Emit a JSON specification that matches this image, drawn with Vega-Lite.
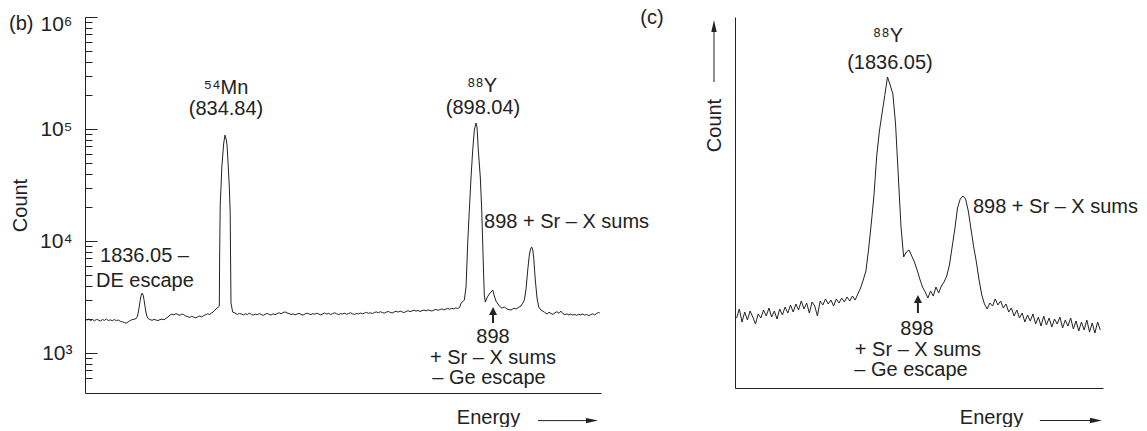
{
  "$schema": "https://vega.github.io/schema/vega-lite/v6.json",
  "padding": {"left": 8, "top": 8, "right": 0, "bottom": 0},
  "bounds": "flush",
  "spacing": 134,
  "config": {
    "view": {"stroke": null},
    "font": "Liberation Sans",
    "axis": {"domainColor": "#222", "domainWidth": 1, "tickColor": "#222", "tickWidth": 1, "labelColor": "#222", "titleColor": "#222", "grid": false, "titleFontWeight": "normal", "titleFontSize": 20, "labelFontSize": 17},
    "text": {"fontSize": 20, "color": "#222", "baseline": "middle"}
  },
  "hconcat": [
    {
      "width": 516,
      "height": 376,
      "layer": [
        {
          "data": {"values": [
            {"e":800.0,"c":1960},{"e":800.5,"c":2010},{"e":801.0,"c":1950},{"e":801.5,"c":1990},{"e":802.0,"c":1940},{"e":802.5,"c":2000},{"e":803.0,"c":1970},{"e":803.5,"c":1930},{"e":804.0,"c":1990},{"e":804.5,"c":1960},{"e":805.0,"c":2010},{"e":805.5,"c":1950},{"e":806.0,"c":1980},{"e":806.5,"c":1940},{"e":807.0,"c":1990},{"e":807.5,"c":1950},{"e":808.0,"c":1970},{"e":808.5,"c":1920},{"e":809.0,"c":1900},{"e":809.5,"c":1870},{"e":810.0,"c":1850},{"e":810.5,"c":1900},{"e":811.0,"c":1950},{"e":811.5,"c":1990},{"e":812.0,"c":2000},{"e":812.5,"c":2035},{"e":812.75,"c":2110},{"e":813.0,"c":2275},{"e":813.25,"c":2565},{"e":813.5,"c":2950},{"e":813.75,"c":3290},{"e":814.0,"c":3430},{"e":814.25,"c":3290},{"e":814.5,"c":2950},{"e":814.75,"c":2565},{"e":815.0,"c":2275},{"e":815.25,"c":2110},{"e":815.5,"c":2035},
            {"e":816.0,"c":1990},{"e":816.5,"c":1960},{"e":817.0,"c":2000},{"e":817.5,"c":1970},{"e":818.0,"c":1950},{"e":818.5,"c":1990},{"e":819.0,"c":2010},{"e":819.5,"c":1980},{"e":820.0,"c":2040},{"e":820.5,"c":2100},{"e":821.0,"c":2180},{"e":821.5,"c":2230},{"e":822.0,"c":2190},{"e":822.5,"c":2250},{"e":823.0,"c":2210},{"e":823.5,"c":2170},{"e":824.0,"c":2230},{"e":824.5,"c":2200},{"e":825.0,"c":2140},{"e":825.5,"c":2110},{"e":826.0,"c":2080},{"e":826.5,"c":2130},{"e":827.0,"c":2090},{"e":827.5,"c":2060},{"e":828.0,"c":2110},{"e":828.5,"c":2140},{"e":829.0,"c":2100},{"e":829.5,"c":2160},{"e":830.0,"c":2200},{"e":830.5,"c":2240},{"e":831.0,"c":2210},{"e":831.5,"c":2280},
            {"e":831.85,"c":2320},{"e":832.35,"c":2420},{"e":832.86,"c":2520},{"e":833.44,"c":2620},{"e":833.51,"c":6770},{"e":833.66,"c":20900},{"e":833.87,"c":30300},{"e":834.07,"c":45800},{"e":834.55,"c":75000},{"e":834.87,"c":88300},{"e":835.2,"c":79700},{"e":835.38,"c":72000},{"e":835.7,"c":45800},{"e":835.96,"c":30300},{"e":836.18,"c":17800},{"e":836.28,"c":6770},{"e":836.38,"c":2790},{"e":836.81,"c":2320},{"e":837.39,"c":2280},
            {"e":838.0,"c":2210},{"e":838.5,"c":2260},{"e":839.0,"c":2230},{"e":839.5,"c":2190},{"e":840.0,"c":2240},{"e":840.5,"c":2210},{"e":841.0,"c":2270},{"e":841.5,"c":2220},{"e":842.0,"c":2180},{"e":842.5,"c":2230},{"e":843.0,"c":2200},{"e":843.5,"c":2250},{"e":844.0,"c":2210},{"e":844.5,"c":2170},{"e":845.0,"c":2220},{"e":845.5,"c":2260},{"e":846.0,"c":2210},{"e":846.5,"c":2190},{"e":847.0,"c":2240},{"e":847.5,"c":2200},{"e":848.0,"c":2250},{"e":848.5,"c":2290},{"e":849.0,"c":2240},{"e":849.5,"c":2300},{"e":850.0,"c":2330},{"e":850.5,"c":2280},{"e":851.0,"c":2250},{"e":851.5,"c":2210},{"e":852.0,"c":2240},{"e":852.5,"c":2190},{"e":853.0,"c":2230},{"e":853.5,"c":2260},{"e":854.0,"c":2220},{"e":854.5,"c":2180},{"e":855.0,"c":2230},{"e":855.5,"c":2270},{"e":856.0,"c":2240},{"e":856.5,"c":2200},{"e":857.0,"c":2250},{"e":857.5,"c":2220},{"e":858.0,"c":2270},{"e":858.5,"c":2230},{"e":859.0,"c":2190},{"e":859.5,"c":2240},{"e":860.0,"c":2280},{"e":860.5,"c":2230},{"e":861.0,"c":2260},{"e":861.5,"c":2210},{"e":862.0,"c":2250},{"e":862.5,"c":2290},{"e":863.0,"c":2240},{"e":863.5,"c":2200},{"e":864.0,"c":2250},{"e":864.5,"c":2230},{"e":865.0,"c":2270},{"e":865.5,"c":2220},{"e":866.0,"c":2250},{"e":866.5,"c":2290},{"e":867.0,"c":2240},{"e":867.5,"c":2210},{"e":868.0,"c":2260},{"e":868.5,"c":2230},{"e":869.0,"c":2280},{"e":869.5,"c":2240},{"e":870.0,"c":2270},{"e":870.5,"c":2310},{"e":871.0,"c":2260},{"e":871.5,"c":2290},{"e":872.0,"c":2250},{"e":872.5,"c":2300},{"e":873.0,"c":2330},{"e":873.5,"c":2290},{"e":874.0,"c":2340},{"e":874.5,"c":2300},{"e":875.0,"c":2270},{"e":875.5,"c":2320},{"e":876.0,"c":2350},{"e":876.5,"c":2310},{"e":877.0,"c":2280},{"e":877.5,"c":2330},{"e":878.0,"c":2360},{"e":878.5,"c":2320},{"e":879.0,"c":2370},{"e":879.5,"c":2330},{"e":880.0,"c":2300},{"e":880.5,"c":2350},{"e":881.0,"c":2390},{"e":881.5,"c":2340},{"e":882.0,"c":2380},{"e":882.5,"c":2410},{"e":883.0,"c":2370},{"e":883.5,"c":2400},{"e":884.0,"c":2350},{"e":884.5,"c":2390},{"e":885.0,"c":2420},{"e":885.5,"c":2380},{"e":886.0,"c":2430},{"e":886.5,"c":2400},{"e":887.0,"c":2370},{"e":887.5,"c":2420},{"e":888.0,"c":2450},{"e":888.5,"c":2410},{"e":889.0,"c":2440},{"e":889.5,"c":2480},{"e":890.0,"c":2430},{"e":890.5,"c":2470},{"e":891.0,"c":2500},{"e":891.5,"c":2460},{"e":892.0,"c":2510},{"e":892.5,"c":2480},{"e":893.0,"c":2530},{"e":893.5,"c":2500},{"e":894.0,"c":2560},
            {"e":894.33,"c":2790},{"e":895.17,"c":2970},{"e":895.6,"c":3880},{"e":896.02,"c":9600},{"e":896.43,"c":18900},{"e":896.86,"c":37300},{"e":897.28,"c":64900},{"e":897.69,"c":97900},{"e":898.11,"c":113000},{"e":898.36,"c":104000},{"e":898.69,"c":64900},{"e":899.19,"c":37300},{"e":899.55,"c":18900},{"e":899.8,"c":9600},{"e":900.05,"c":4770},{"e":900.2,"c":3300},{"e":900.46,"c":2850},{"e":900.96,"c":3160},{"e":901.47,"c":3370},{"e":901.9,"c":3510},{"e":902.32,"c":3650},{"e":902.72,"c":3230},{"e":903.15,"c":2910},{"e":903.98,"c":2630},{"e":904.66,"c":2520},{"e":905.24,"c":2575},{"e":905.92,"c":2470},{"e":906.93,"c":2420},{"e":907.68,"c":2520},{"e":908.19,"c":2470},{"e":908.95,"c":2575},{"e":909.45,"c":2630},{"e":909.88,"c":2790},{"e":910.28,"c":2970},{"e":910.71,"c":3720},{"e":911.14,"c":5510},{"e":911.54,"c":7500},{"e":911.84,"c":8490},{"e":912.14,"c":8840},{"e":912.42,"c":8310},{"e":912.65,"c":7050},{"e":913.05,"c":4490},{"e":913.48,"c":3100},{"e":913.91,"c":2575},{"e":914.49,"c":2420},{"e":915.32,"c":2320},
            {"e":916.0,"c":2230},{"e":916.5,"c":2310},{"e":917.0,"c":2260},{"e":917.5,"c":2210},{"e":918.0,"c":2290},{"e":918.5,"c":2340},{"e":919.0,"c":2260},{"e":919.5,"c":2370},{"e":920.0,"c":2250},{"e":920.5,"c":2200},{"e":921.0,"c":2240},{"e":921.5,"c":2190},{"e":922.0,"c":2230},{"e":922.5,"c":2180},{"e":923.0,"c":2210},{"e":923.5,"c":2170},{"e":924.0,"c":2220},{"e":924.5,"c":2190},{"e":925.0,"c":2230},{"e":925.5,"c":2180},{"e":926.0,"c":2210},{"e":926.5,"c":2160},{"e":927.0,"c":2200},{"e":927.5,"c":2240},{"e":928.0,"c":2190},{"e":928.5,"c":2260},{"e":929.0,"c":2300},{"e":929.3,"c":2280}
          ]},
          "mark": {"type": "line", "stroke": "#222", "strokeWidth": 1},
          "encoding": {
            "x": {"field": "e", "type": "quantitative", "scale": {"domain": [799.6, 929.6], "nice": false, "zero": false},
              "axis": {"ticks": false, "labels": false, "title": "Energy", "titleFontSize": 20, "titleX": 403, "titleY": 24, "titleBaseline": "middle", "titleAlign": "center"}},
            "y": {"field": "c", "type": "quantitative", "scale": {"type": "log", "domain": [440, 1000000], "nice": false},
              "axis": {
                "values": [600,700,800,900,1000,2000,3000,4000,5000,6000,7000,8000,9000,10000,20000,30000,40000,50000,60000,70000,80000,90000,100000,200000,300000,400000,500000,600000,700000,800000,900000,1000000],
                "labelExpr": "datum.value == 1000 ? '10³' : datum.value == 10000 ? '10⁴' : datum.value == 100000 ? '10⁵' : datum.value == 1000000 ? '10⁶' : ''",
                "tickSize": {"condition": {"test": "datum.value == 1000 || datum.value == 10000 || datum.value == 100000 || datum.value == 1000000", "value": -12}, "value": -7},
                "labelPadding": 25,
                "labelOffset": {"condition": {"test": "datum.value == 1000000", "value": 7}, "value": 0},
                "labelOverlap": false,
                "labelFontSize": 21,
                "titleFontSize": 20,
                "title": "Count", "titleX": -65, "titleY": 188, "titleBaseline": "middle", "titleAlign": "center", "titleAngle": 270
              }}
          }
        },
        {
          "data": {"values": [
            {"e":835.13,"c":232000,"t":"⁵⁴Mn"},
            {"e":835.13,"c":151000,"t":"(834.84)"},
            {"e":899.63,"c":242000,"t":"⁸⁸Y"},
            {"e":899.88,"c":154000,"t":"(898.04)"},
            {"e":902.4,"c":1390,"t":"898"},
            {"e":902.4,"c":902,"t":"+ Sr – X sums"},
            {"e":901.39,"c":598,"t":"– Ge escape"}
          ]},
          "mark": {"type": "text", "align": "center", "clip": false},
          "encoding": {"x": {"field": "e", "type": "quantitative"}, "y": {"field": "c", "type": "quantitative"}, "text": {"field": "t"}}
        },
        {
          "data": {"values": [
            {"e":900.13,"c":14800,"t":"898 + Sr – X sums"},
            {"e":803.38,"c":7350,"t":"1836.05 –"},
            {"e":802.37,"c":4390,"t":"DE escape"},
            {"e":780.45,"c":866000,"t":"(b)"}
          ]},
          "mark": {"type": "text", "align": "left", "clip": false},
          "encoding": {"x": {"field": "e", "type": "quantitative"}, "y": {"field": "c", "type": "quantitative"}, "text": {"field": "t"}}
        },
        {
          "data": {"values": [{}]},
          "mark": {"type": "rule", "color": "#222", "strokeWidth": 2, "clip": false},
          "encoding": {"x": {"datum": 902.4, "type": "quantitative"}, "y": {"datum": 1855, "type": "quantitative"}, "y2": {"datum": 2280}}
        },
        {
          "data": {"values": [{}]},
          "mark": {"type": "point", "shape": "M0,-1L1,1L-1,1Z", "size": 64, "filled": true, "color": "#222", "opacity": 1, "clip": false},
          "encoding": {"x": {"datum": 902.4, "type": "quantitative"}, "y": {"datum": 2372, "type": "quantitative"}}
        },
        {
          "data": {"values": [{}]},
          "mark": {"type": "rule", "color": "#222", "strokeWidth": 1, "clip": false},
          "encoding": {"x": {"datum": 913.73, "type": "quantitative"}, "x2": {"datum": 926.33}, "y": {"datum": 249.5, "type": "quantitative"}}
        },
        {
          "data": {"values": [{}]},
          "mark": {"type": "point", "shape": "M-1,-0.45L1,0L-1,0.45Z", "size": 144, "filled": true, "color": "#222", "opacity": 1, "clip": false},
          "encoding": {"x": {"datum": 927.34, "type": "quantitative"}, "y": {"datum": 249.5, "type": "quantitative"}}
        }
      ]
    },
    {
      "width": 368,
      "height": 371,
      "layer": [
        {
          "data": {"values": [
            {"e":1808.0,"c":700},{"e":1808.5,"c":790},{"e":1809.0,"c":660},{"e":1809.5,"c":760},{"e":1810.0,"c":680},{"e":1810.5,"c":770},{"e":1811.0,"c":710},{"e":1811.5,"c":640},{"e":1812.0,"c":740},{"e":1812.5,"c":700},{"e":1813.0,"c":780},{"e":1813.5,"c":720},{"e":1814.0,"c":800},{"e":1814.5,"c":710},{"e":1815.0,"c":770},{"e":1815.5,"c":690},{"e":1816.0,"c":790},{"e":1816.5,"c":730},{"e":1817.0,"c":810},{"e":1817.5,"c":750},{"e":1818.0,"c":830},{"e":1818.5,"c":760},{"e":1819.0,"c":840},{"e":1819.5,"c":780},{"e":1820.0,"c":870},{"e":1820.5,"c":790},{"e":1821.0,"c":850},{"e":1821.5,"c":750},{"e":1822.0,"c":860},{"e":1822.5,"c":820},{"e":1823.0,"c":720},{"e":1823.5,"c":870},{"e":1824.0,"c":830},{"e":1824.5,"c":890},{"e":1825.0,"c":840},{"e":1825.5,"c":880},{"e":1826.0,"c":820},{"e":1826.5,"c":890},{"e":1827.0,"c":850},{"e":1827.5,"c":900},{"e":1828.0,"c":860},{"e":1828.5,"c":910},{"e":1829.0,"c":870},{"e":1829.5,"c":920},{"e":1830.0,"c":880},{"e":1830.5,"c":940},{"e":1831.0,"c":1000},{"e":1831.5,"c":1080},{"e":1832.0,"c":1170},{"e":1832.5,"c":1390},{"e":1833.0,"c":1650},{"e":1833.5,"c":1930},{"e":1834.0,"c":2320},{"e":1834.5,"c":2570},{"e":1835.0,"c":2750},{"e":1835.5,"c":2925},{"e":1836.0,"c":3110},{"e":1836.5,"c":3030},{"e":1837.0,"c":2940},{"e":1837.5,"c":2640},{"e":1838.0,"c":2130},{"e":1838.5,"c":1620},{"e":1839.0,"c":1310},{"e":1839.5,"c":1360},{"e":1840.0,"c":1380},{"e":1840.5,"c":1320},{"e":1841.0,"c":1260},{"e":1841.5,"c":1180},{"e":1842.0,"c":1090},{"e":1842.5,"c":1010},{"e":1843.0,"c":960},{"e":1843.5,"c":900},{"e":1844.0,"c":970},{"e":1844.5,"c":920},{"e":1845.0,"c":1010},{"e":1845.5,"c":950},{"e":1846.0,"c":1020},{"e":1846.5,"c":1060},{"e":1847.0,"c":1120},{"e":1847.5,"c":1230},{"e":1848.0,"c":1410},{"e":1848.5,"c":1590},{"e":1849.0,"c":1800},{"e":1849.5,"c":1890},{"e":1850.0,"c":1920},{"e":1850.5,"c":1890},{"e":1851.0,"c":1770},{"e":1851.5,"c":1590},{"e":1852.0,"c":1410},{"e":1852.5,"c":1260},{"e":1853.0,"c":1080},{"e":1853.5,"c":930},{"e":1854.0,"c":840},{"e":1854.5,"c":790},{"e":1855.0,"c":850},{"e":1855.5,"c":820},{"e":1856.0,"c":890},{"e":1856.5,"c":830},{"e":1857.0,"c":870},{"e":1857.5,"c":800},{"e":1858.0,"c":840},{"e":1858.5,"c":760},{"e":1859.0,"c":800},{"e":1859.5,"c":720},{"e":1860.0,"c":780},{"e":1860.5,"c":700},{"e":1861.0,"c":750},{"e":1861.5,"c":660},{"e":1862.0,"c":730},{"e":1862.5,"c":670},{"e":1863.0,"c":740},{"e":1863.5,"c":640},{"e":1864.0,"c":710},{"e":1864.5,"c":620},{"e":1865.0,"c":720},{"e":1865.5,"c":630},{"e":1866.0,"c":700},{"e":1866.5,"c":610},{"e":1867.0,"c":690},{"e":1867.5,"c":640},{"e":1868.0,"c":710},{"e":1868.5,"c":600},{"e":1869.0,"c":680},{"e":1869.5,"c":620},{"e":1870.0,"c":700},{"e":1870.5,"c":590},{"e":1871.0,"c":670},{"e":1871.5,"c":570},{"e":1872.0,"c":660},{"e":1872.5,"c":580},{"e":1873.0,"c":680},{"e":1873.5,"c":560},{"e":1874.0,"c":650},{"e":1874.5,"c":550},{"e":1875.0,"c":660},{"e":1875.5,"c":580}
          ]},
          "mark": {"type": "line", "stroke": "#222", "strokeWidth": 1},
          "encoding": {
            "x": {"field": "e", "type": "quantitative", "scale": {"domain": [1807.7, 1876.0], "nice": false, "zero": false},
              "axis": {"ticks": false, "labels": false, "title": "Energy", "titleFontSize": 20, "titleX": 256, "titleY": 29, "titleBaseline": "middle", "titleAlign": "center"}},
            "y": {"field": "c", "type": "quantitative", "scale": {"domain": [0, 3710], "nice": false, "zero": false},
              "axis": {"ticks": false, "labels": false, "title": "Count", "titleFontSize": 20, "titleX": -21, "titleY": 108, "titleBaseline": "middle", "titleAlign": "center", "titleAngle": 270}}
          }
        },
        {
          "data": {"values": [
            {"e":1792.3,"c":3700,"t":"(c)"},
            {"e":1836.09,"c":3520,"t":"⁸⁸Y"},
            {"e":1836.46,"c":3255,"t":"(1836.05)"},
            {"e":1841.47,"c":590,"t":"898"},
            {"e":1841.65,"c":380,"t":"+ Sr – X sums"},
            {"e":1840.35,"c":180,"t":"– Ge escape"}
          ]},
          "mark": {"type": "text", "align": "center", "clip": false},
          "encoding": {"x": {"field": "e", "type": "quantitative"}, "y": {"field": "c", "type": "quantitative"}, "text": {"field": "t"}}
        },
        {
          "data": {"values": [
            {"e":1851.86,"c":1810,"t":"898 + Sr – X sums"}
          ]},
          "mark": {"type": "text", "align": "left", "clip": false},
          "encoding": {"x": {"field": "e", "type": "quantitative"}, "y": {"field": "c", "type": "quantitative"}, "text": {"field": "t"}}
        },
        {
          "data": {"values": [{}]},
          "mark": {"type": "rule", "color": "#222", "strokeWidth": 2, "clip": false},
          "encoding": {"x": {"datum": 1841.65, "type": "quantitative"}, "y": {"datum": 750, "type": "quantitative"}, "y2": {"datum": 850}}
        },
        {
          "data": {"values": [{}]},
          "mark": {"type": "point", "shape": "M0,-1L1,1L-1,1Z", "size": 64, "filled": true, "color": "#222", "opacity": 1, "clip": false},
          "encoding": {"x": {"datum": 1841.65, "type": "quantitative"}, "y": {"datum": 890, "type": "quantitative"}}
        },
        {
          "data": {"values": [{}]},
          "mark": {"type": "rule", "color": "#222", "strokeWidth": 1, "clip": false},
          "encoding": {"x": {"datum": 1803.8, "type": "quantitative"}, "y": {"datum": 3060, "type": "quantitative"}, "y2": {"datum": 3570}}
        },
        {
          "data": {"values": [{}]},
          "mark": {"type": "point", "shape": "M-0.45,1L0,-1L0.45,1Z", "size": 144, "filled": true, "color": "#222", "opacity": 1, "clip": false},
          "encoding": {"x": {"datum": 1803.8, "type": "quantitative"}, "y": {"datum": 3620, "type": "quantitative"}}
        },
        {
          "data": {"values": [{}]},
          "mark": {"type": "rule", "color": "#222", "strokeWidth": 1, "clip": false},
          "encoding": {"x": {"datum": 1864.29, "type": "quantitative"}, "x2": {"datum": 1874.0}, "y": {"datum": -325, "type": "quantitative"}}
        },
        {
          "data": {"values": [{}]},
          "mark": {"type": "point", "shape": "M-1,-0.45L1,0L-1,0.45Z", "size": 144, "filled": true, "color": "#222", "opacity": 1, "clip": false},
          "encoding": {"x": {"datum": 1874.68, "type": "quantitative"}, "y": {"datum": -325, "type": "quantitative"}}
        }
      ]
    }
  ]
}
